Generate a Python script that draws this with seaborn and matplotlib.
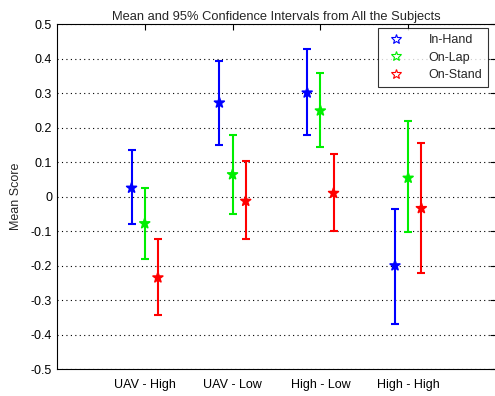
import numpy as np
import pandas as pd
import matplotlib
matplotlib.use("Agg")
import matplotlib.pyplot as plt
import seaborn as sns
from matplotlib.lines import Line2D

# data
conditions = ["UAV - High", "UAV - Low", "High - Low", "High - High"]
devices = ["In-Hand", "On-Lap", "On-Stand"]
in_hand_mean = [0.025, 0.272, 0.301, -0.200]
in_hand_low = [-0.080, 0.149, 0.179, -0.369]
in_hand_high = [0.135, 0.394, 0.427, -0.036]
on_lap_mean = [-0.078, 0.064, 0.249, 0.054]
on_lap_low = [-0.182, -0.050, 0.143, -0.102]
on_lap_high = [0.025, 0.179, 0.359, 0.218]
on_stand_mean = [-0.235, -0.013, 0.010, -0.034]
on_stand_low = [-0.343, -0.123, -0.100, -0.221]
on_stand_high = [-0.123, 0.102, 0.123, 0.156]

colors = {"In-Hand": "#0000ff", "On-Lap": "#00ee00", "On-Stand": "#ff0000"}
offsets = {"In-Hand": -0.15, "On-Lap": 0.0, "On-Stand": 0.15}

rows = []
for dev, m, lo, hi in zip(devices,
                          [in_hand_mean, on_lap_mean, on_stand_mean],
                          [in_hand_low, on_lap_low, on_stand_low],
                          [in_hand_high, on_lap_high, on_stand_high]):
    for i, cond in enumerate(conditions):
        rows.append({"condition": cond, "device": dev, "x": i + 1 + offsets[dev],
                     "mean": m[i], "low": lo[i], "high": hi[i]})
df = pd.DataFrame(rows)

sns.set_style("white")
plt.rcParams["font.family"] = ["Liberation Sans", "DejaVu Sans"]

fig = plt.figure(figsize=(4.95, 3.96), dpi=100)
ax = fig.add_axes([0.115, 0.068, 0.887, 0.871])

# confidence intervals
for dev in devices:
    d = df[df["device"] == dev]
    ax.errorbar(d["x"], d["mean"],
                yerr=[d["mean"] - d["low"], d["high"] - d["mean"]],
                fmt="none", ecolor=colors[dev], elinewidth=1.5, capsize=2.8, capthick=1.5)

# means
sns.scatterplot(data=df, x="x", y="mean", hue="device", palette=colors, marker="*",
                s=55, linewidth=1.2, edgecolor=df["device"].map(colors), legend=False, ax=ax,
                zorder=3)

ax.set_xlim(0, 5)
ax.set_ylim(-0.5, 0.5)
ax.set_xticks([1, 2, 3, 4])
ax.set_xticklabels(conditions)
yt = np.round(np.arange(-0.5, 0.51, 0.1), 1)
ax.set_yticks(yt)
ax.set_yticklabels([("%g" % v) if v != 0 else "0" for v in yt])
ax.tick_params(direction="in", length=4, labelsize=9, colors="black", top=True, right=True,
               labeltop=False, labelright=False)
ax.tick_params(axis="x", pad=7)
ax.yaxis.grid(True, linestyle=(0, (1, 3)), color="black", linewidth=0.8)
ax.xaxis.grid(False)
for s in ax.spines.values():
    s.set_color("black")
    s.set_linewidth(0.8)

ax.set_xlabel("")
ax.set_ylabel("Mean Score", fontsize=9, labelpad=6)
ax.set_title("Mean and 95% Confidence Intervals from All the Subjects", fontsize=9.3, pad=3)

handles = [Line2D([], [], linestyle="none", marker="*", markersize=7, markerfacecolor="none",
                  markeredgecolor=colors[d], markeredgewidth=0.8) for d in devices]
leg = ax.legend(handles, devices, loc="upper right", bbox_to_anchor=(0.982, 0.988),
                fontsize=9, frameon=True, fancybox=False, handletextpad=1.6,
                borderpad=0.45, labelspacing=0.45, borderaxespad=0)
leg.get_frame().set_edgecolor("black")
leg.get_frame().set_linewidth(0.8)

fig.savefig("out.png", dpi=100)
